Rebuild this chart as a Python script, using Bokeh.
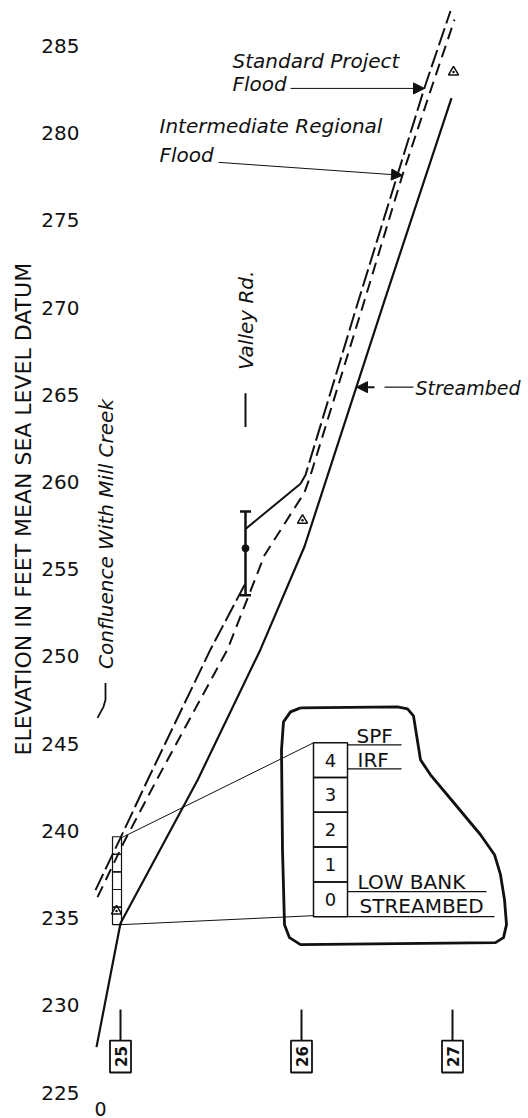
import math
from bokeh.plotting import figure
from bokeh.models import Range1d, FixedTicker, Title, Arrow, NormalHead
from bokeh.core.properties import value
from bokeh.embed import file_html
from bokeh.resources import INLINE

# ---------------- data (distance units, elevation in feet) ----------------
elev_ticks = [225, 230, 235, 240, 245, 250, 255, 260, 265, 270, 275, 280, 285]
dist_ticks = [0]

streambed_x = [-0.08, 0.40, 1.94, 3.20, 4.08, 5.68, 7.02]
streambed_el = [227.6, 234.7, 242.9, 250.4, 256.3, 270.4, 282.0]

spf_down_x = [-0.10, 0.40, 0.94, 2.20, 2.90]
spf_down_el = [236.6, 239.6, 242.9, 250.4, 254.2]
spf_bridge_x = [2.90, 4.00]
spf_bridge_el = [257.3, 259.9]
spf_up_x = [4.00, 4.10, 5.16, 6.48, 7.00]
spf_up_el = [259.9, 260.4, 270.4, 282.6, 287.0]

irf_x = [-0.06, 0.46, 1.12, 2.54, 3.28, 4.08, 4.18, 5.28, 6.04, 6.62, 7.08]
irf_el = [236.2, 239.3, 242.9, 250.4, 255.8, 259.4, 260.2, 270.4, 277.6, 282.6, 286.5]

section_x = [0.40, 4.02, 7.04]
section_labels = ["25", "26", "27"]
low_bank_x = [0.32, 4.04, 7.06]
low_bank_el = [235.4, 257.8, 283.5]

bridge_x = [2.90]
bridge_low = [253.5]
bridge_high = [258.3]
bridge_mid = [256.2]

legend_levels = ["0", "1", "2", "3", "4"]
legend_labels = ["SPF", "IRF", "LOW BANK", "STREAMBED"]
y_title = "ELEVATION IN FEET MEAN SEA LEVEL DATUM"

# ---------------- helpers for annotation placement ----------------
S = 17.46
def xr(px):
    return (px - 100) / 50.0
def vr(py):
    return 225 + (1093 - py) / S

FONT = value("DejaVu Sans")
BLACK = "#111111"
FRAME_LEFT = 90

p = figure(width=528, height=1118, x_range=Range1d(xr(FRAME_LEFT), xr(528)), y_range=Range1d(225, vr(0)),
           output_backend="svg", toolbar_location=None,
           min_border_left=FRAME_LEFT, min_border_right=0, min_border_top=0, min_border_bottom=25)
p.outline_line_color = None
p.xgrid.grid_line_color = None
p.ygrid.grid_line_color = None
p.background_fill_color = "white"
p.border_fill_color = "white"

for ax in (p.yaxis[0], p.xaxis[0]):
    ax.axis_line_color = None
    ax.major_tick_line_color = None
    ax.minor_tick_line_color = None
    ax.major_label_text_font = "DejaVu Sans"
    ax.major_label_text_color = BLACK
p.yaxis.ticker = FixedTicker(ticks=elev_ticks)
p.yaxis.major_label_text_font_size = "20px"
p.yaxis.major_label_standoff = 5
p.xaxis.ticker = FixedTicker(ticks=dist_ticks)
p.xaxis.major_label_text_font_size = "19px"
p.xaxis.major_label_standoff = 3

# y axis title (placed as a left-side title so it can be offset along the axis)
p.add_layout(Title(text=y_title, align="left", offset=1093 - 756, standoff=5,
                   text_font="DejaVu Sans", text_font_size="22px", text_font_style="normal",
                   text_color=BLACK), "left")

# ---------------- profiles ----------------
p.line(streambed_x, streambed_el, line_width=2.2, line_color=BLACK)
p.line(spf_down_x, spf_down_el, line_width=2, line_color=BLACK, line_dash="18 5")
p.line(spf_bridge_x, spf_bridge_el, line_width=2, line_color=BLACK)
p.line(spf_up_x, spf_up_el, line_width=2, line_color=BLACK, line_dash="18 5")
p.line(irf_x, irf_el, line_width=2, line_color=BLACK, line_dash="12 7")

# low bank triangles
p.scatter(low_bank_x, low_bank_el, marker="triangle_dot", size=10, fill_color="white",
          line_color=BLACK, line_width=1.5)

# bridge (Valley Rd.)
p.segment(x0=bridge_x, y0=bridge_low, x1=bridge_x, y1=bridge_high, line_width=2.5, line_color=BLACK)
for yy in (bridge_low[0], bridge_high[0]):
    p.segment(x0=[bridge_x[0] - 0.11], y0=[yy], x1=[bridge_x[0] + 0.11], y1=[yy],
              line_width=2.5, line_color=BLACK)
p.scatter(bridge_x, bridge_mid, size=7, marker="circle", fill_color=BLACK, line_color=BLACK)
p.segment(x0=bridge_x, y0=[vr(427)], x1=bridge_x, y1=[vr(393)], line_width=2, line_color=BLACK)
p.text(x=bridge_x, y=[vr(320)], text=["Valley Rd."], angle=math.pi / 2, text_font=FONT,
       text_font_style="italic", text_font_size=value("20px"), text_align="center",
       text_baseline="middle", text_color=BLACK)

# confluence note
p.text(x=[xr(105)], y=[vr(534)], text=["Confluence With Mill Creek"], angle=math.pi / 2,
       text_font=FONT, text_font_style="italic", text_font_size=value("20px"),
       text_align="center", text_baseline="middle", text_color=BLACK)
p.line([xr(105), xr(105), xr(103), xr(97)], [vr(683), vr(700), vr(707), vr(718)],
       line_width=1.8, line_color=BLACK)

# cross-section markers
p.segment(x0=section_x, y0=[vr(1010)] * 3, x1=section_x, y1=[vr(1041)] * 3,
          line_width=2, line_color=BLACK)
box_h = vr(1041) - vr(1073)
p.rect(x=section_x, y=[(vr(1041) + vr(1073)) / 2] * 3, width=0.42, height=box_h,
       fill_color=None, line_color=BLACK, line_width=1.8)
p.text(x=section_x, y=[(vr(1041) + vr(1073)) / 2] * 3, text=section_labels, angle=math.pi / 2,
       text_font=FONT, text_font_style="bold", text_font_size=value("15px"),
       text_align="center", text_baseline="middle", text_color=BLACK)

# flood labels with leaders
txt_kw = dict(text_font=FONT, text_font_style="italic", text_font_size=value("20px"),
              text_align="left", text_baseline="middle", text_color=BLACK)
p.text(x=[xr(232), xr(232)], y=[vr(61), vr(84)], text=["Standard Project", "Flood"], **txt_kw)
p.text(x=[xr(159), xr(159)], y=[vr(126), vr(155)], text=["Intermediate Regional", "Flood"], **txt_kw)
p.text(x=[xr(415)], y=[vr(388)], text=["Streambed"], **dict(txt_kw, text_font_size=value("19px")))

p.add_layout(Arrow(end=NormalHead(size=11, fill_color=BLACK, line_color=BLACK),
                   x_start=xr(290), y_start=vr(88), x_end=xr(424), y_end=vr(88),
                   line_width=1, line_color=BLACK))
p.add_layout(Arrow(end=NormalHead(size=11, fill_color=BLACK, line_color=BLACK),
                   x_start=xr(218), y_start=vr(162), x_end=xr(402), y_end=vr(175),
                   line_width=1, line_color=BLACK))
p.add_layout(Arrow(end=NormalHead(size=11, fill_color=BLACK, line_color=BLACK),
                   x_start=xr(374), y_start=vr(387), x_end=xr(356), y_end=vr(387),
                   line_width=2, line_color=BLACK))
p.line([xr(384), xr(413)], [vr(387), vr(387)], line_width=1.2, line_color=BLACK)

# small stacked box at section 25
cell_small = (vr(837) - vr(925)) / 5
p.rect(x=[xr(116.5)] * 5, y=[vr(925) + (i + 0.5) * cell_small for i in range(5)],
       width=xr(121) - xr(112), height=cell_small, fill_color=None, line_color=BLACK, line_width=1.2)
p.line([xr(121), xr(313)], [vr(838), vr(743)], line_width=1, line_color=BLACK)
p.line([xr(121), xr(313)], [vr(925), vr(916)], line_width=1, line_color=BLACK)

# legend blob
blob_px = [(300, 708), (397, 707), (407, 709), (413, 716), (416, 735), (420, 760), (430, 775),
           (455, 805), (480, 835), (494, 855), (500, 875), (504, 900), (506, 925), (503, 938),
           (495, 943), (300, 945), (289, 938), (284, 925), (282, 850), (281, 750), (283, 722),
           (290, 712), (300, 708)]
p.line([xr(a) for a, b in blob_px], [vr(b) for a, b in blob_px], line_width=2.8, line_color=BLACK,
       line_join="round")

cell_big = (vr(743) - vr(917)) / 5
cell_y = [vr(917) + (i + 0.5) * cell_big for i in range(5)]
p.rect(x=[xr(330)] * 5, y=cell_y, width=xr(347) - xr(313), height=cell_big,
       fill_color=None, line_color=BLACK, line_width=1.5)
p.text(x=[xr(330)] * 5, y=cell_y, text=legend_levels, text_font=FONT, text_font_size=value("18px"),
       text_align="center", text_baseline="middle", text_color=BLACK)
p.text(x=[xr(356), xr(357), xr(357), xr(359)], y=[vr(736), vr(760), vr(882), vr(906)],
       text=legend_labels, text_font=FONT, text_font_size=value("20px"),
       text_align="left", text_baseline="middle", text_color=BLACK)
p.segment(x0=[xr(347)] * 4, y0=[vr(745), vr(769), vr(892), vr(917)],
          x1=[xr(401), xr(401), xr(486), xr(494)], y1=[vr(745), vr(769), vr(892), vr(917)],
          line_width=1.2, line_color=BLACK)

open("out.html", "w").write(file_html(p, INLINE))
